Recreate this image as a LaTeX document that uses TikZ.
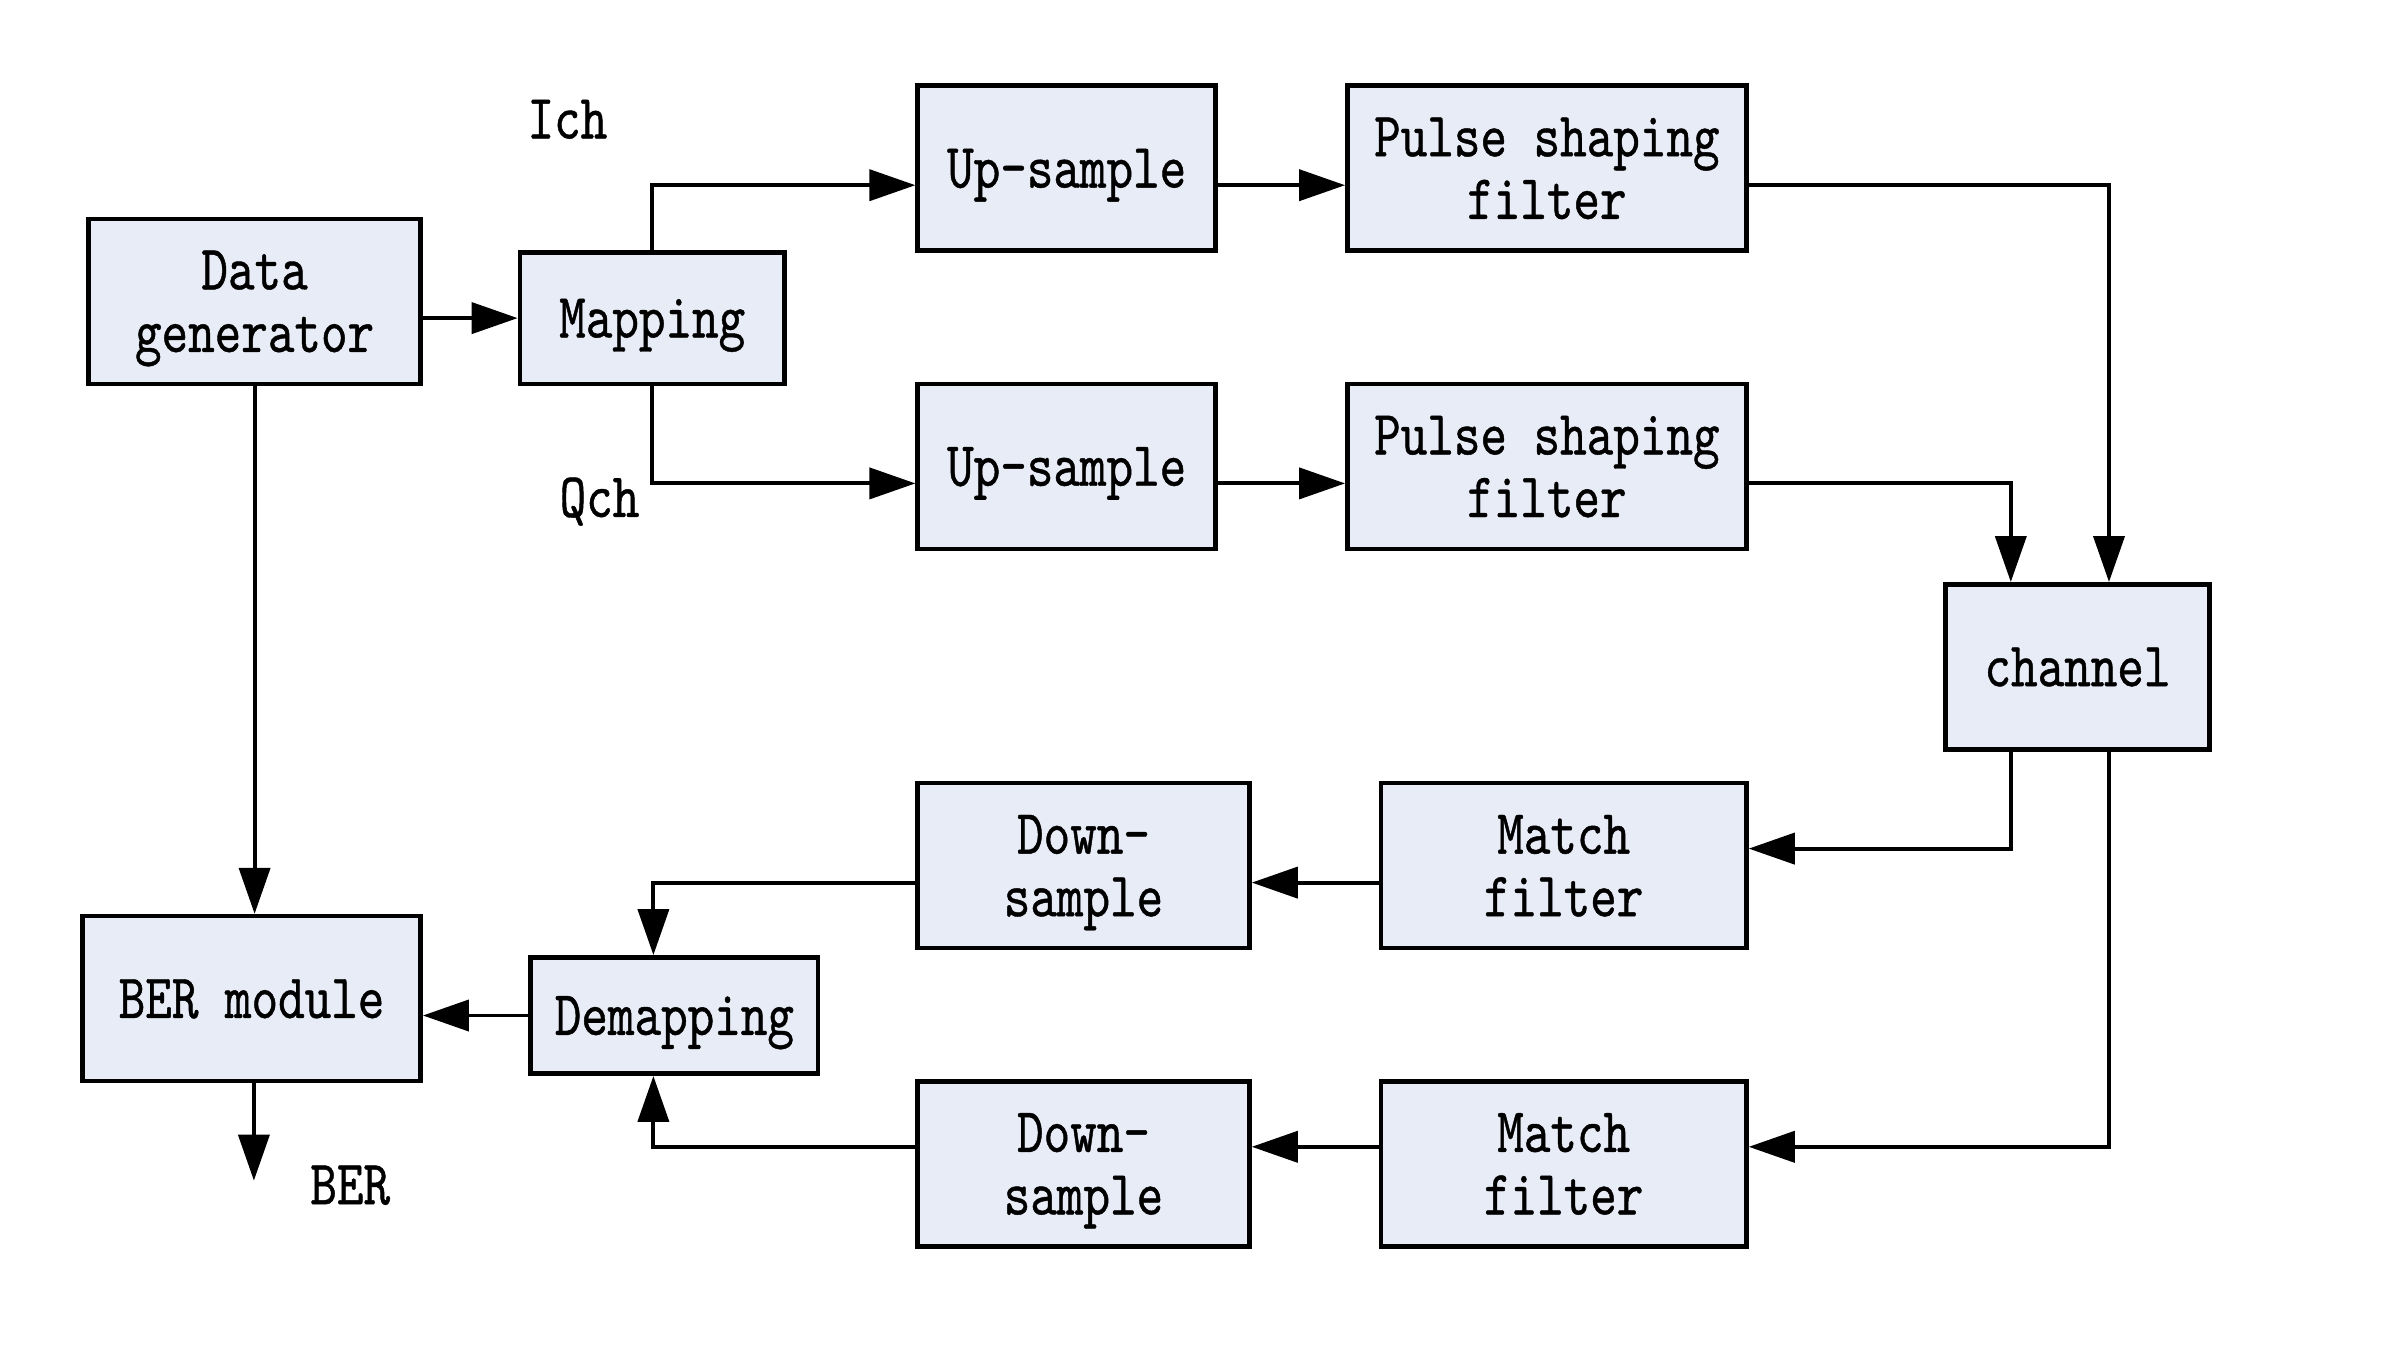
\documentclass[tikz,border=0pt]{standalone}
\usepackage{fontspec}
\setmonofont[FakeStretch=0.8,FakeBold=0.7]{lmmono10-regular.otf}
\usetikzlibrary{arrows.meta}
\definecolor{boxfill}{RGB}{232,236,246}

\begin{document}
\begin{tikzpicture}[>={Triangle[length=4.6mm,width=3.1mm]}, line cap=butt, line join=miter,
	font=\ttfamily\fontsize{18}{17.8}\selectfont,
	blk/.style={draw, line width=1.3pt, fill=boxfill, inner sep=0pt, align=center, text depth=0pt, minimum height=1.65cm},
	link/.style={->, line width=1.1pt}]
	
	\useasboundingbox (0,0) rectangle (23.98,-13.48);
	
	% ===== transmitter =====
	\node[blk, minimum width=3.32cm] (gen) at (2.546,-3.013) {Data\\generator};
	\node[blk, minimum width=2.645cm, minimum height=1.316cm] (map) at (6.522,-3.181) {Mapping};
	\node[blk, minimum width=2.98cm] (upI) at (10.667,-1.682) {Up-sample};
	\node[blk, minimum width=3.99cm] (psI) at (15.469,-1.682) {Pulse shaping\\filter};
	\node[blk, minimum width=2.98cm] (upQ) at (10.667,-4.664) {Up-sample};
	\node[blk, minimum width=3.99cm] (psQ) at (15.469,-4.664) {Pulse shaping\\filter};
	\node (ich) at (5.674,-1.193) {Ich};
	\node (qch) at (5.995,-5.016) {Qch};
	
	% ===== channel =====
	\node[blk, minimum width=2.645cm] (chan) at (20.775,-6.668) {channel};
	
	% ===== receiver =====
	\node[blk, minimum width=3.655cm] (mfA) at (15.637,-8.656) {Match\\filter};
	\node[blk, minimum width=3.32cm] (dsA) at (10.835,-8.656) {Down-\\sample};
	\node[blk, minimum width=3.655cm] (mfB) at (15.637,-11.638) {Match\\filter};
	\node[blk, minimum width=3.32cm] (dsB) at (10.835,-11.638) {Down-\\sample};
	\node[blk, minimum width=2.875cm, minimum height=1.163cm] (demap) at (6.744,-10.155) {Demapping};
	\node[blk, minimum width=3.38cm] (ber) at (2.516,-9.986) {BER module};
	\coordinate (berout) at (2.539,-11.806);
	\node (berlbl) at (3.502,-11.852) {BER};
	
	% ===== connectors =====
	\draw[link] (gen.east |- map.west) -- (map.west);
	\draw[link] (map.north) |- ([yshift=-1.7mm]upI.west);
	\draw[link] (map.south) |- ([yshift=-1.7mm]upQ.west);
	\draw[link] ([yshift=-1.7mm]upI.east) -- ([yshift=-1.7mm]psI.west);
	\draw[link] ([yshift=-1.7mm]upQ.east) -- ([yshift=-1.7mm]psQ.west);
	\draw[link] ([yshift=-1.7mm]psI.east) -| ([xshift=3.15mm]chan.north);
	\draw[link] ([yshift=-1.7mm]psQ.east) -| ([xshift=-6.67mm]chan.north);
	
	\draw[link] ([xshift=-6.67mm]chan.south) |- ([yshift=1.7mm]mfA.east);
	\draw[link] ([xshift=3.15mm]chan.south) |- ([yshift=1.7mm]mfB.east);
	\draw[link] ([yshift=-1.7mm]mfA.west) -- ([yshift=-1.7mm]dsA.east);
	\draw[link] ([yshift=1.7mm]mfB.west) -- ([yshift=1.7mm]dsB.east);
	\draw[link] ([yshift=-1.7mm]dsA.west) -| ([xshift=-2.1mm]demap.north);
	\draw[link] ([yshift=1.7mm]dsB.west) -| ([xshift=-2.1mm]demap.south);
	\draw[link] (demap.west) -- (demap.west -| ber.east);
	
	\draw[link] (gen.south) -- (gen.south |- ber.north);
	\draw[link] (ber.south -| berout) -- (berout);
	
\end{tikzpicture}
\end{document}
